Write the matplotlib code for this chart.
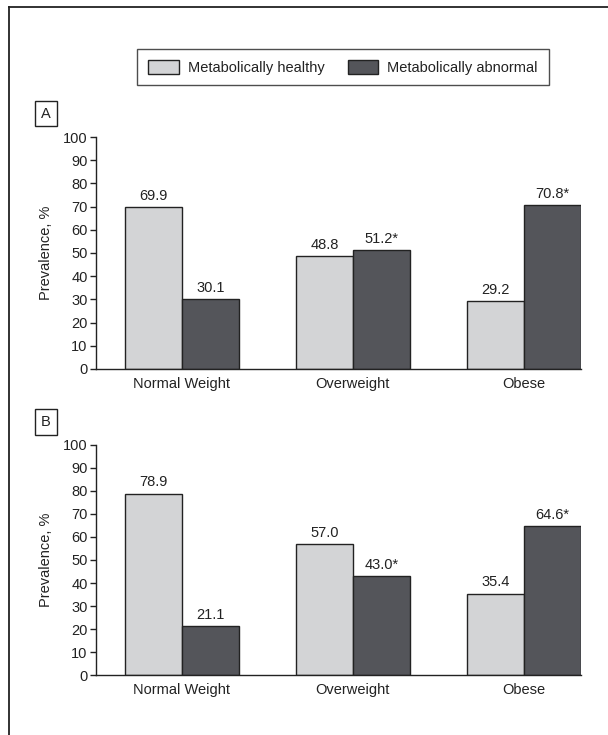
import matplotlib
matplotlib.use('Agg')
import matplotlib.pyplot as plt
from matplotlib.patches import Patch
from matplotlib.lines import Line2D

plt.rcParams['font.family'] = ['Liberation Sans', 'DejaVu Sans']

categories = ['Normal Weight', 'Overweight', 'Obese']
series_names = ['Metabolically healthy', 'Metabolically abnormal']
healthy_a = [69.9, 48.8, 29.2]
abnormal_a = [30.1, 51.2, 70.8]
healthy_b = [78.9, 57.0, 35.4]
abnormal_b = [21.1, 43.0, 64.6]
abnormal_star = [False, True, True]
panel_labels = ['A', 'B']

light = '#d3d4d6'
dark = '#54555a'
edge = '#222222'
fs = 10.5

fig = plt.figure(figsize=(6.08, 7.35), dpi=100)

# outer frame (top and left only)
fig.add_artist(Line2D([0.0148, 0.0148], [0, 0.9905], transform=fig.transFigure, color='#222', lw=1.3))
fig.add_artist(Line2D([0.0148, 1.0], [0.9905, 0.9905], transform=fig.transFigure, color='#222', lw=1.3))

w = 1 / 3
x = list(range(len(categories)))


def draw_panel(ax, healthy, abnormal, label):
    ax.bar([i - w / 2 for i in x], healthy, width=w, color=light, edgecolor=edge, linewidth=1.0)
    ax.bar([i + w / 2 for i in x], abnormal, width=w, color=dark, edgecolor=edge, linewidth=1.0)
    for i in x:
        ax.text(i - w / 2, healthy[i] + 1.8, '%.1f' % healthy[i], ha='center', va='bottom', fontsize=fs, color='#222')
        t = '%.1f' % abnormal[i] + ('*' if abnormal_star[i] else '')
        ax.text(i + w / 2, abnormal[i] + 1.8, t, ha='center', va='bottom', fontsize=fs, color='#222')
    ax.set_xlim(-0.5, 2 + w)
    ax.set_ylim(0, 100)
    ax.set_yticks(range(0, 101, 10))
    ax.set_xticks(x)
    ax.set_xticklabels(categories, fontsize=fs, color='#222')
    ax.tick_params(axis='x', length=0, pad=6)
    ax.tick_params(axis='y', length=4, width=1, labelsize=fs, colors='#222', pad=2)
    for s in ['top', 'right']:
        ax.spines[s].set_visible(False)
    for s in ['left', 'bottom']:
        ax.spines[s].set_color('#222')
        ax.spines[s].set_linewidth(1.0)
    ax.set_ylabel('Prevalence, %', fontsize=fs, color='#222', labelpad=7)
    ax.text(-0.103, 1.101, label, transform=ax.transAxes, ha='center', va='center', fontsize=fs,
            color='#222', bbox=dict(boxstyle='square,pad=0.4', fc='white', ec='#222', lw=1.0))


ax1 = fig.add_axes([0.158, 0.498, 0.798, 0.3156])
draw_panel(ax1, healthy_a, abnormal_a, panel_labels[0])
ax2 = fig.add_axes([0.158, 0.0816, 0.798, 0.313])
draw_panel(ax2, healthy_b, abnormal_b, panel_labels[1])

handles = [Patch(facecolor=light, edgecolor=edge, lw=1.0), Patch(facecolor=dark, edgecolor=edge, lw=1.0)]
leg = fig.legend(handles, series_names, ncol=2, loc='center', bbox_to_anchor=(0.564, 0.9088),
                 frameon=True, fancybox=False, edgecolor='#222', fontsize=fs,
                 handlelength=2.1, handleheight=1.1, columnspacing=1.6, borderpad=0.75, handletextpad=0.6)
leg.get_frame().set_linewidth(1.0)
for t in leg.get_texts():
    t.set_color('#222')

fig.savefig('out.png', dpi=100)
